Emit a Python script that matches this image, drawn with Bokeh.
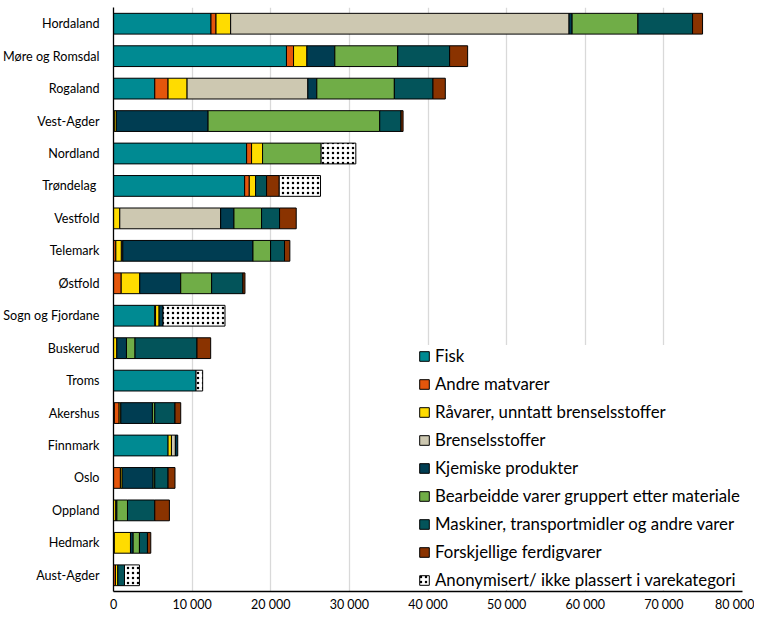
from bokeh.plotting import figure
from bokeh.models import ColumnDataSource, FactorRange, Legend, LegendItem, FixedTicker
from bokeh.embed import file_html
from bokeh.resources import INLINE

regions = ["Hordaland", "Møre og Romsdal", "Rogaland", "Vest-Agder", "Nordland", "Trøndelag ",
           "Vestfold", "Telemark", "Østfold", "Sogn og Fjordane", "Buskerud", "Troms",
           "Akershus", "Finnmark", "Oslo", "Oppland", "Hedmark", "Aust-Agder"]

series_names = ["Fisk", "Andre matvarer", "Råvarer, unntatt brenselsstoffer", "Brenselsstoffer",
                "Kjemiske produkter", "Bearbeidde varer gruppert etter materiale",
                "Maskiner, transportmidler og andre varer", "Forskjellige ferdigvarer",
                "Anonymisert/ ikke plassert i varekategori"]

fisk      = [12400, 22000, 5250, 0, 16930, 16680, 0, 0, 0, 5250, 0, 10500, 100, 6940, 0, 0, 0, 0]
andre     = [640, 900, 1690, 100, 630, 590, 0, 300, 980, 100, 0, 0, 620, 0, 880, 0, 100, 250]
ravarer   = [1860, 1700, 2420, 250, 1400, 800, 800, 700, 2360, 450, 420, 0, 210, 430, 220, 300, 2060, 300]
brensel   = [43040, 0, 15360, 0, 0, 0, 12830, 180, 0, 0, 0, 0, 0, 500, 0, 0, 0, 0]
kjemiske  = [390, 3550, 1140, 11680, 0, 0, 1690, 16560, 5210, 500, 1230, 0, 4020, 300, 3940, 130, 340, 0]
bearbeidde = [8370, 8000, 9860, 21830, 7450, 0, 3510, 2240, 3930, 0, 1090, 0, 300, 0, 210, 1350, 800, 0]
maskiner  = [6950, 6600, 4910, 2710, 0, 1400, 2290, 1770, 3980, 0, 7880, 0, 2570, 0, 1690, 3470, 1020, 850]
forskj    = [1270, 2290, 1570, 260, 0, 1610, 2120, 680, 260, 0, 1740, 0, 730, 0, 880, 1860, 420, 0]
anonym    = [0, 0, 0, 0, 4410, 5250, 0, 0, 0, 7880, 0, 840, 0, 0, 0, 0, 0, 1900]

x_ticks = [0, 10000, 20000, 30000, 40000, 50000, 60000, 70000, 80000]
x_tick_labels = ["0", "10 000", "20 000", "30 000", "40 000", "50 000", "60 000", "70 000", "80 000"]

all_series = [fisk, andre, ravarer, brensel, kjemiske, bearbeidde, maskiner, forskj, anonym]
colors = ["#008a92", "#e4560c", "#ffdc00", "#cdc8b1", "#003d52", "#70ad47", "#03545a", "#8a3300", "#ffffff"]

FONT = "Lato"

p = figure(frame_width=629, frame_height=584, output_backend="svg", toolbar_location=None,
           y_range=FactorRange(factors=list(reversed(regions)), range_padding=0),
           x_range=(0, 80000), min_border_left=0, min_border_right=12,
           min_border_top=7, min_border_bottom=0)
p.outline_line_color = None
p.ygrid.grid_line_color = None
p.xgrid.grid_line_color = "#d9d9d9"
p.xgrid.grid_line_width = 1.3
p.xgrid.ticker = FixedTicker(ticks=x_ticks)

left = [0] * len(regions)
items = []
for name, vals, col in zip(series_names, all_series, colors):
    ys, ls, rs = [], [], []
    for i, v in enumerate(vals):
        if v > 0:
            ys.append(regions[i]); ls.append(left[i]); rs.append(left[i] + v)
        left[i] += v
    src = ColumnDataSource(dict(y=ys, left=ls, right=rs))
    kw = {}
    if name.startswith("Anonym"):
        kw = dict(hatch_pattern="dot", hatch_color="black", hatch_scale=5, hatch_weight=0.7)
    r = p.hbar(y="y", left="left", right="right", height=0.64, source=src,
               fill_color=col, line_color="black", line_width=1, **kw)
    items.append(LegendItem(label=name, renderers=[r]))

p.xaxis.ticker = FixedTicker(ticks=x_ticks)
p.xaxis.major_label_overrides = {t: l for t, l in zip(x_ticks, x_tick_labels)}
for ax in (p.xaxis, p.yaxis):
    ax.axis_line_color = "black"
    ax.axis_line_width = 1.3
    ax.major_tick_line_color = None
    ax.minor_tick_line_color = None
    ax.major_tick_out = 0
    ax.major_tick_in = 0
    ax.axis_label_standoff = 0
    ax.major_label_text_font = FONT
    ax.major_label_text_color = "black"
p.xaxis.major_label_text_font_size = "12.5px"
p.xaxis.major_label_standoff = 5
p.yaxis.major_label_text_font_size = "12.6px"
p.yaxis.major_label_standoff = 14

legend = Legend(items=items, location=(305, 1), orientation="vertical")
legend.label_text_font = FONT
legend.label_text_font_size = "16.8px"
legend.label_text_color = "black"
legend.glyph_width = 12
legend.glyph_height = 12
legend.label_height = 20
legend.spacing = 7
legend.label_standoff = 5
legend.padding = 4
legend.margin = 0
legend.border_line_color = None
legend.background_fill_color = "white"
legend.background_fill_alpha = 1
p.add_layout(legend, "center")

open("out.html", "w").write(file_html(p, INLINE))
